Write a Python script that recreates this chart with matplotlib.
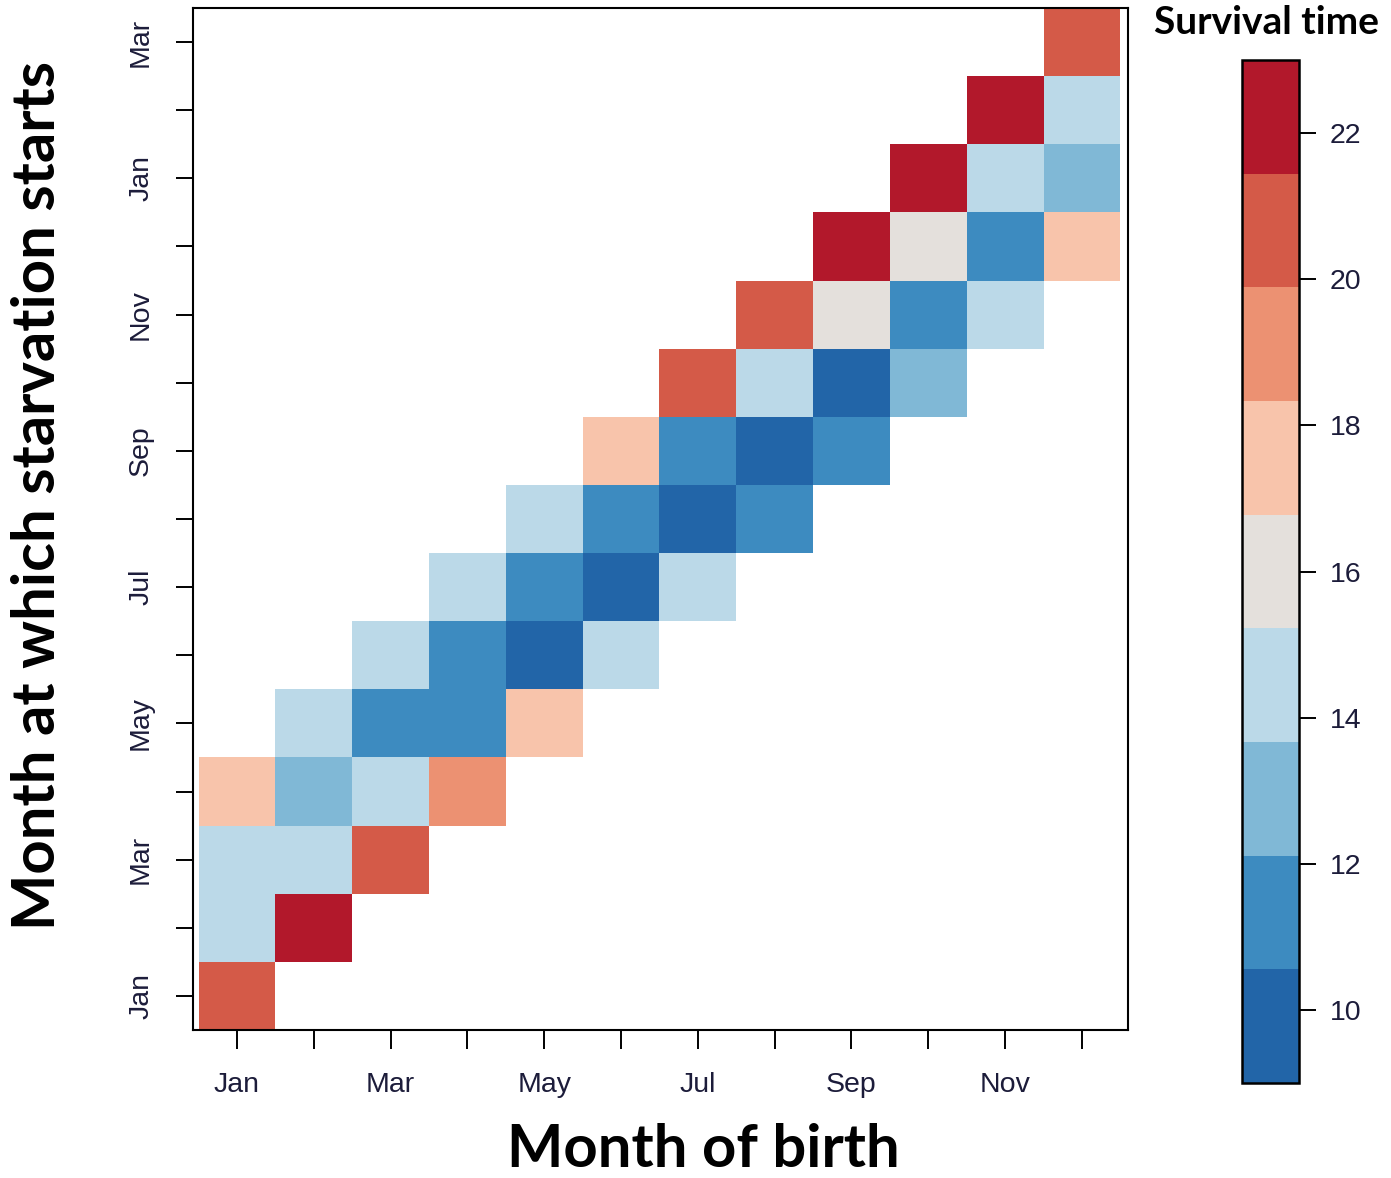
import numpy as np
import matplotlib
matplotlib.use("Agg")
import matplotlib.pyplot as plt
from matplotlib.colors import ListedColormap, BoundaryNorm
from matplotlib.colorbar import ColorbarBase

birth_months = ["Jan", "Feb", "Mar", "Apr", "May", "Jun", "Jul", "Aug", "Sep", "Oct", "Nov", "Dec"]
start_months = ["Jan", "Feb", "Mar", "Apr", "May", "Jun", "Jul", "Aug", "Sep", "Oct", "Nov", "Dec",
                "Jan", "Feb", "Mar"]
# survival time for starvation starting 0..3 months after birth, per birth month
surv_lag0 = [20.5, 22.0, 20.5, 19.0, 17.5, 14.5, 14.5, 11.5, 11.5, 13.0, 14.5, 17.5]
surv_lag1 = [14.5, 14.5, 14.5, 11.5, 10.0, 10.0, 10.0, 10.0, 10.0, 11.5, 11.5, 13.0]
surv_lag2 = [14.5, 13.0, 11.5, 11.5, 11.5, 11.5, 11.5, 14.5, 16.0, 16.0, 14.5, 14.5]
surv_lag3 = [17.5, 14.5, 14.5, 14.5, 14.5, 17.5, 20.5, 20.5, 22.0, 22.0, 22.0, 20.5]
cbar_ticks = [10, 12, 14, 16, 18, 20, 22]

colors = ['#2265a8', '#3d8bc0', '#80b8d6', '#bbd9e8', '#e4e0dc',
          '#f8c4ab', '#ec9172', '#d45a48', '#b2182b']
bounds = np.linspace(9, 23, 10)
cmap = ListedColormap(colors)
norm = BoundaryNorm(bounds, cmap.N)

nx, ny = len(birth_months), len(start_months)
Z = np.full((ny, nx), np.nan)
for lag, vals in enumerate([surv_lag0, surv_lag1, surv_lag2, surv_lag3]):
    for i, v in enumerate(vals):
        Z[i + lag, i] = v
Zm = np.ma.masked_invalid(Z)

W, H = 1391, 1178
fig = plt.figure(figsize=(W / 100, H / 100), dpi=100)
ax = fig.add_axes([193 / W, 1 - 1030 / H, 935 / W, 1022 / H])
xe = np.arange(nx + 1) - 0.5
ye = np.arange(ny + 1) - 0.5
ax.pcolormesh(xe, ye, Zm, cmap=cmap, norm=norm, edgecolors='none')
ax.set_xlim(-0.573, 11.6)
ax.set_ylim(-0.5, 14.5)

tick_color = '#1c1c3a'
ax.set_xticks(np.arange(nx))
ax.set_xticklabels([m if i % 2 == 0 else "" for i, m in enumerate(birth_months)],
                   fontfamily='Liberation Sans', fontsize=20.5, color=tick_color)
ax.set_yticks(np.arange(ny))
ax.set_yticklabels([m if i % 2 == 0 else "" for i, m in enumerate(start_months)],
                   fontfamily='Liberation Sans', fontsize=20.5, color=tick_color,
                   rotation=90, va='center')
ax.tick_params(axis='x', length=14, width=1.4, pad=16)
ax.tick_params(axis='y', length=12, width=1.4, pad=16)
for s in ax.spines.values():
    s.set_linewidth(1.5)

ax.set_xlabel("Month of birth", fontfamily='Lato', fontweight='bold', fontsize=43)
ax.xaxis.set_label_coords((703 - 193) / 935, -(1150 - 1030) / 1022)
ax.xaxis.label.set_va('center')
ax.set_ylabel("Month at which starvation starts", fontfamily='Lato',
              fontweight='bold', fontsize=43)
ax.yaxis.set_label_coords(-(193 - 38) / 935, (1030 - 496) / 1022)
ax.yaxis.label.set_va('center')

cax = fig.add_axes([1242 / W, 1 - 1083 / H, 57 / W, 1023 / H])
cb = ColorbarBase(cax, cmap=cmap, norm=norm, boundaries=bounds,
                  ticks=cbar_ticks, orientation='vertical')
cb.outline.set_linewidth(1.8)
cax.minorticks_off()
cax.tick_params(length=12, width=1.4, pad=10, labelsize=20.5, labelcolor=tick_color)
for lab in cax.get_yticklabels():
    lab.set_fontfamily('Liberation Sans')

fig.text(1267 / W, 1 - 23 / H, "Survival time", ha='center', va='center',
         fontfamily='Lato', fontweight='bold', fontsize=28)

fig.savefig("out.png", dpi=100)
